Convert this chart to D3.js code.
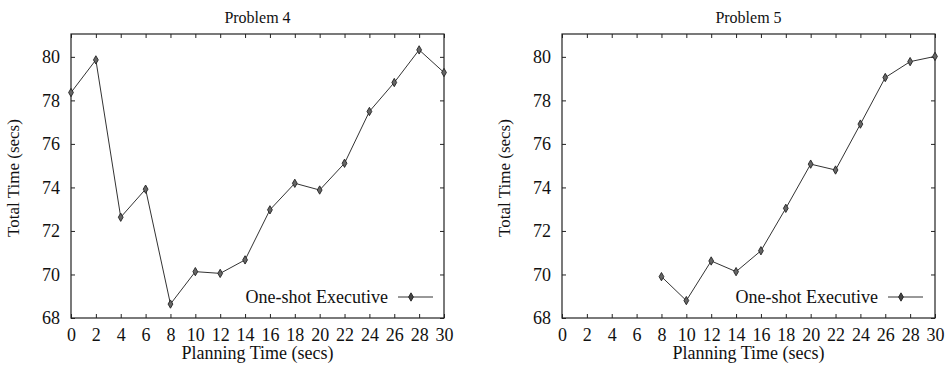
<!DOCTYPE html>
<html>
<head>
<meta charset="utf-8">
<script src="https://cdn.jsdelivr.net/npm/d3@7"></script>
<style>
  body { margin: 0; background: #fff; }
  svg text { font-family: 'Liberation Serif', 'DejaVu Serif', serif; fill: #111; }
</style>
</head>
<body>
<svg id="chart" width="945" height="367"></svg>
<script>
// planning time (secs)
const xTicks = [0, 2, 4, 6, 8, 10, 12, 14, 16, 18, 20, 22, 24, 26, 28, 30]
const yTicks = [68, 70, 72, 74, 76, 78, 80]

const p4Times = [0, 2, 4, 6, 8, 10, 12, 14, 16, 18, 20, 22, 24, 26, 28, 30]
const p4Totals = [78.36, 79.86, 72.63, 73.92, 68.64, 70.13, 70.05, 70.67, 72.97, 74.19, 73.88, 75.11, 77.49, 78.82, 80.32, 79.28]

const p5Times = [8, 10, 12, 14, 16, 18, 20, 22, 24, 26, 28, 30]
const p5Totals = [69.90, 68.80, 70.62, 70.13, 71.09, 73.04, 75.07, 74.80, 76.91, 79.05, 79.78, 80.02]

const panels = [
  {title: 'Problem 4', left: 71, xs: p4Times, ys: p4Totals, legendX: 411},
  {title: 'Problem 5', left: 562, xs: p5Times, ys: p5Totals, legendX: 901}
]

let svg = d3.select('#chart')
let w = 373
let plotTop = 34
let plotBottom = 318
let tickLen = 4
let ink = '#222'

panels.forEach(function (p) {
  let g = svg.append('g').attr('transform', 'translate(' + p.left + ',0)')
  let x = d3.scaleLinear().domain([0, 30]).range([0, w])
  let y = d3.scaleLinear().domain([68, 81.05]).range([plotBottom, plotTop])

  // frame
  g.append('rect')
    .attr('x', 0)
    .attr('y', plotTop)
    .attr('width', w)
    .attr('height', plotBottom - plotTop)
    .attr('fill', 'none')
    .attr('stroke', ink)
    .attr('stroke-width', 1.2)

  // axes, ticks pointing inward
  let xb = g.append('g').attr('transform', 'translate(0,' + plotBottom + ')')
    .call(d3.axisBottom(x).tickValues(xTicks).tickSizeInner(-tickLen).tickSizeOuter(0).tickPadding(10))
  let xt = g.append('g').attr('transform', 'translate(0,' + plotTop + ')')
    .call(d3.axisTop(x).tickValues(xTicks).tickSizeInner(-tickLen).tickSizeOuter(0).tickFormat(''))
  let yl = g.append('g')
    .call(d3.axisLeft(y).tickValues(yTicks).tickSizeInner(-tickLen).tickSizeOuter(0).tickPadding(11))
  let yr = g.append('g').attr('transform', 'translate(' + w + ',0)')
    .call(d3.axisRight(y).tickValues(yTicks).tickSizeInner(-tickLen).tickSizeOuter(0).tickFormat(''))
  ;[xb, xt, yl, yr].forEach(function (a) {
    a.select('.domain').remove()
    a.selectAll('line').attr('stroke', ink)
    a.selectAll('text').style('font-size', '18px').style('font-family', "'Liberation Serif', serif").attr('fill', '#111')
  })

  // titles and labels
  g.append('text')
    .text(p.title)
    .attr('x', w / 2)
    .attr('y', 23)
    .attr('text-anchor', 'middle')
    .style('font-size', '16px')
  g.append('text')
    .text('Planning Time (secs)')
    .attr('x', w / 2)
    .attr('y', 359)
    .attr('text-anchor', 'middle')
    .style('font-size', '18px')
  g.append('text')
    .text('Total Time (secs)')
    .attr('transform', 'translate(-52,' + 178 + ') rotate(-90)')
    .attr('text-anchor', 'middle')
    .style('font-size', '17px')

  // series
  let pts = p.xs.map(function (d, i) { return [d, p.ys[i]] })
  g.append('path')
    .datum(pts)
    .attr('d', d3.line().x(d => x(d[0])).y(d => y(d[1])))
    .attr('fill', 'none')
    .attr('stroke', '#333')
    .attr('stroke-width', 1)
  let sym = d3.symbol().type(d3.symbolDiamond).size(20)
  g.selectAll('.mk')
    .data(pts)
    .enter()
    .append('path')
    .attr('class', 'mk')
    .attr('d', sym)
    .attr('transform', d => 'translate(' + x(d[0]) + ',' + y(d[1]) + ')')
    .attr('fill', '#666')
    .attr('stroke', '#222')
    .attr('stroke-width', 0.9)

  // legend
  let lx = p.legendX - p.left
  let ly = 297
  g.append('line')
    .attr('x1', lx - 13).attr('x2', lx + 22)
    .attr('y1', ly).attr('y2', ly)
    .attr('stroke', '#333')
    .attr('stroke-width', 1)
  g.append('path')
    .attr('d', sym)
    .attr('transform', 'translate(' + lx + ',' + ly + ')')
    .attr('fill', '#444')
    .attr('stroke', '#222')
    .attr('stroke-width', 0.9)
  g.append('text')
    .text('One-shot Executive')
    .attr('x', lx - 23)
    .attr('y', ly + 6)
    .attr('text-anchor', 'end')
    .style('font-size', '18px')
})
</script>
</body>
</html>
